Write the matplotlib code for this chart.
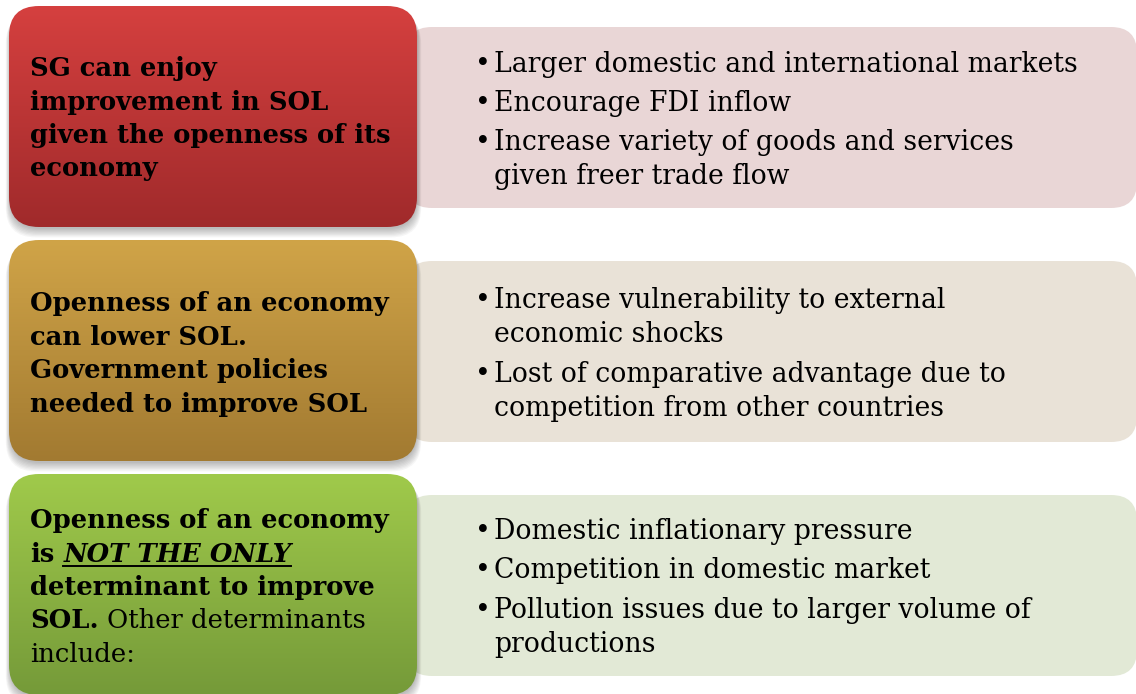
import numpy as np
import matplotlib.pyplot as plt
from matplotlib.patches import FancyBboxPatch
from matplotlib.colors import LinearSegmentedColormap

W, H = 1136, 694
FONT = ['DejaVu Serif']

# left headline boxes: each line is a list of runs (text, weight, style, underline)
headlines = [
    [[("SG can enjoy", "bold", "normal", False)],
     [("improvement in SOL", "bold", "normal", False)],
     [("given the openness of its", "bold", "normal", False)],
     [("economy", "bold", "normal", False)]],
    [[("Openness of an economy", "bold", "normal", False)],
     [("can lower SOL.", "bold", "normal", False)],
     [("Government policies", "bold", "normal", False)],
     [("needed to improve SOL", "bold", "normal", False)]],
    [[("Openness of an economy", "bold", "normal", False)],
     [("is", "bold", "normal", False), ("NOT THE ONLY", "bold", "italic", True)],
     [("determinant to improve", "bold", "normal", False)],
     [("SOL.", "bold", "normal", False), ("Other determinants", "normal", "normal", False)],
     [("include:", "normal", "normal", False)]],
]

bullets = [
    ["Larger domestic and international markets",
     "Encourage FDI inflow",
     "Increase variety of goods and services\ngiven freer trade flow"],
    ["Increase vulnerability to external\neconomic shocks",
     "Lost of comparative advantage due to\ncompetition from other countries"],
    ["Domestic inflationary pressure",
     "Competition in domestic market",
     "Pollution issues due to larger volume of\nproductions"],
]

top_colors = ['#d5403f', '#d0a448', '#a0ca4b']
bottom_colors = ['#a02a2b', '#a27a31', '#759a39']
panel_colors = ['#e9d6d6', '#e9e2d7', '#e2e9d6']

row_tops = [6, 240, 474]
box_h = 221
head_base = [[76, 110, 143, 176], [311, 345, 378, 412], [528, 562, 595, 628, 662]]
bullet_base = [[72, 111, 150, 184], [308, 342, 382, 416], [539, 578, 618, 652]]

fig = plt.figure(figsize=(W / 100, H / 100), dpi=100)
ax = fig.add_axes([0, 0, 1, 1])
ax.set_xlim(0, W)
ax.set_ylim(H, 0)
ax.axis('off')
renderer = fig.canvas.get_renderer()

head_size = 18.6
body_size = 19.2


def text_width(s, **kw):
    t = ax.text(0, 0, s, fontsize=head_size, family=FONT, **kw)
    w = t.get_window_extent(renderer).width
    t.remove()
    return w


for i in range(3):
    y0 = row_tops[i]
    # right light panel
    py = y0 + 21
    ph = 181
    panel = FancyBboxPatch((406, py), 731, ph, boxstyle="round,pad=0,rounding_size=26",
                           fc=panel_colors[i], ec='none', zorder=1)
    ax.add_patch(panel)

    # soft shadow under the left box
    for k in range(8):
        sh = FancyBboxPatch((10 - k * 0.6, y0 + 2 + k * 0.8), 407 + k * 1.2, box_h + k * 0.4,
                            boxstyle="round,pad=0,rounding_size=30",
                            fc='black', ec='none', alpha=0.035, zorder=2)
        ax.add_patch(sh)

    box = FancyBboxPatch((9, y0), 408, box_h, boxstyle="round,pad=0,rounding_size=30",
                         fc='none', ec='none', zorder=3)
    ax.add_patch(box)
    cmap = LinearSegmentedColormap.from_list('g%d' % i, [top_colors[i], bottom_colors[i]])
    grad = np.linspace(0, 1, 256).reshape(-1, 1)
    im = ax.imshow(grad, cmap=cmap, aspect='auto', origin='upper',
                   extent=(9, 417, y0 + box_h, y0), zorder=3)
    im.set_clip_path(box)

    # headline text
    for line, yb in zip(headlines[i], head_base[i]):
        x = 30
        for j, (s, wt, st, ul) in enumerate(line):
            if j > 0:
                x += text_width("x x", fontweight=wt) - text_width("xx", fontweight=wt)
            t = ax.text(x, yb, s, fontsize=head_size, fontweight=wt, fontstyle=st,
                        family=FONT, va='baseline', ha='left', zorder=5)
            bb = t.get_window_extent(renderer)
            x1 = x + bb.width
            if ul:
                ax.plot([x, x1], [yb + 4, yb + 4], color='black', lw=1.4, zorder=5)
            x = x1

    # bullet text
    k = 0
    for b in bullets[i]:
        for n, line in enumerate(b.split('\n')):
            yb = bullet_base[i][k]
            if n == 0:
                ax.text(475, yb, "\u2022", fontsize=body_size, family=FONT,
                        va='baseline', ha='left', zorder=5)
            ax.text(494, yb, line, fontsize=body_size, family=FONT,
                    va='baseline', ha='left', zorder=5)
            k += 1

ax.set_xlim(0, W)
ax.set_ylim(H, 0)
fig.savefig('out.png', dpi=100, facecolor='white')
